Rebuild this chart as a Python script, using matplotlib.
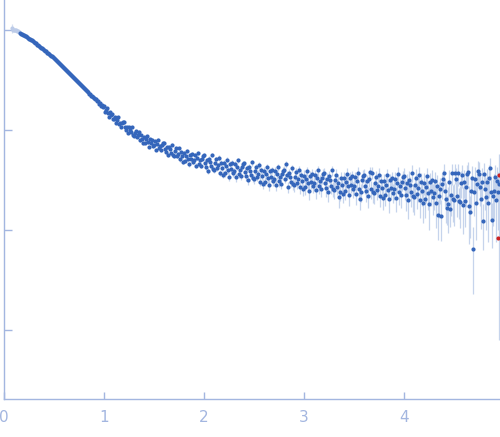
import numpy as np
import matplotlib
matplotlib.use("Agg")
import matplotlib.pyplot as plt

# Scattering vector grid, s [nm^-1] (uniform step of 0.01).
q_first, q_last, q_count = 0.16, 4.95, 480

# Intensity (arbitrary units, I(0) ~ 100).
intensity = [
    93.6, 91.9, 91.5, 89.8,
    89.4, 87.4, 86.6, 84.6, 83.9, 81.9, 81.2, 79.3, 78.6, 76.8,
    76.2, 74.2, 73.5, 71.5, 70.9, 68.9, 68.3, 66.4, 65.8, 64.0,
    63.4, 61.6, 61.1, 59.4, 58.9, 57.2, 56.8, 55.2, 54.7, 53.2,
    52.8, 51.0, 50.4, 48.7, 48.2, 46.5, 46.0, 44.4, 44.0, 42.4,
    41.9, 40.4, 40.1, 38.6, 38.3, 36.9, 36.6, 35.2, 35.0, 33.6,
    33.4, 32.1, 31.9, 30.6, 30.5, 29.2, 29.1, 27.9, 27.8, 26.6,
    26.5, 25.4, 25.3, 24.3, 24.2, 23.1, 23.1, 22.1, 22.1, 21.2,
    21.1, 20.2, 20.3, 19.3, 19.4, 18.3, 18.5, 17.5, 17.7, 16.8,
    17.2, 15.3, 15.9, 16.7, 14.8, 13.6, 15.1, 14.0, 14.6, 12.9,
    12.9, 13.6, 11.7, 12.7, 13.4, 11.4, 11.8, 10.8, 11.7, 12.0,
    11.9, 10.7, 10.0, 10.8, 9.37, 10.7, 10.1, 9.46, 10.7, 8.92,
    8.69, 9.41, 9.82, 8.58, 8.83, 9.64, 7.85, 8.90, 8.21, 7.39,
    8.55, 7.40, 8.05, 8.71, 7.51, 6.79, 8.04, 7.40, 8.01, 6.92,
    7.04, 7.75, 6.36, 7.30, 7.96, 6.55, 6.90, 6.25, 7.07, 7.35,
    7.38, 6.50, 6.03, 6.72, 5.62, 6.79, 6.39, 5.93, 7.12, 5.61,
    5.49, 6.17, 6.55, 5.54, 5.81, 6.57, 5.07, 6.01, 5.47, 4.82,
    5.88, 4.90, 5.51, 6.15, 5.13, 4.54, 5.67, 5.15, 5.74, 4.79,
    4.96, 5.61, 4.40, 5.25, 5.89, 4.62, 4.96, 4.40, 5.16, 5.45,
    5.60, 4.71, 4.27, 5.01, 3.92, 5.16, 4.78, 4.32, 5.62, 4.05,
    3.99, 4.69, 5.12, 4.13, 4.42, 5.25, 3.74, 4.72, 4.18, 3.57,
    4.66, 3.68, 4.33, 5.03, 3.96, 3.38, 4.58, 4.04, 4.70, 3.71,
    3.89, 4.60, 3.36, 4.26, 4.98, 3.63, 4.01, 3.44, 4.26, 4.59,
    4.63, 3.83, 3.44, 4.12, 3.14, 4.27, 3.92, 3.52, 4.73, 3.30,
    3.24, 3.87, 4.28, 3.39, 3.65, 4.43, 3.04, 3.95, 3.47, 2.90,
    3.89, 3.05, 3.61, 4.22, 3.30, 2.81, 3.86, 3.39, 3.96, 3.10,
    3.27, 3.90, 2.81, 3.60, 4.25, 3.06, 3.40, 2.90, 3.62, 3.93,
    3.96, 3.26, 4.55, 3.53, 2.68, 3.70, 3.39, 3.04, 4.14, 2.85,
    2.79, 3.40, 3.78, 2.95, 3.21, 3.96, 2.66, 3.52, 3.07, 2.54,
    3.50, 2.66, 3.23, 3.86, 2.94, 2.44, 3.50, 3.03, 3.62, 2.75,
    2.93, 3.57, 2.49, 3.28, 3.94, 2.75, 3.09, 2.59, 3.34, 3.65,
    3.71, 2.98, 2.62, 3.27, 2.38, 3.44, 3.13, 2.76, 3.94, 2.57,
    2.52, 3.15, 3.56, 2.70, 2.97, 2.15, 2.41, 3.31, 2.83, 2.30,
    3.30, 2.46, 3.02, 3.65, 2.73, 2.25, 3.31, 2.83, 3.43, 2.56,
    2.73, 3.37, 2.29, 3.08, 3.75, 2.55, 2.05, 2.39, 3.14, 3.46,
    3.52, 2.78, 2.43, 3.07, 2.18, 3.25, 3.80, 2.56, 3.73, 2.37,
    2.32, 2.94, 3.38, 2.49, 2.76, 3.57, 2.20, 3.11, 2.63, 2.09,
    3.11, 2.24, 2.83, 3.52, 2.53, 2.03, 3.14, 2.63, 3.29, 2.36,
    2.54, 3.24, 2.09, 2.93, 3.67, 2.37, 2.74, 2.22, 3.01, 3.37,
    3.49, 2.63, 2.25, 2.96, 1.98, 3.16, 2.79, 2.38, 3.73, 2.17,
    2.12, 2.81, 3.31, 2.30, 2.61, 3.53, 1.99, 2.99, 2.46, 1.87,
    2.98, 2.02, 2.66, 3.44, 2.33, 1.80, 3.01, 2.46, 3.17, 2.15,
    2.36, 3.10, 1.88, 2.77, 1.40, 2.17, 2.57, 1.38, 2.86, 3.25,
    3.75, 2.46, 2.06, 1.66, 1.80, 3.05, 1.62, 2.23, 3.71, 2.02,
    1.99, 3.72, 3.25, 2.20, 3.70, 1.95, 1.89, 2.97, 3.55, 1.79,
    3.03, 1.96, 2.69, 3.59, 3.80, 1.75, 1.51, 2.48, 3.33, 0.65,
    2.39, 3.27, 1.87, 2.89, 3.87, 3.62, 2.68, 2.04, 3.04, 1.23,
    3.59, 2.58, 2.15, 3.01, 1.88, 3.30, 4.17, 2.38, 1.26, 2.17,
    2.45, 3.40, 2.00, 3.10, 2.40, 2.90,
]

# Error bars (one sigma, same units).
sigma = [
    0.45, 0.44, 0.43, 0.42,
    0.41, 0.40, 0.41, 0.39, 0.40, 0.38, 0.39, 0.38, 0.37, 0.38,
    0.37, 0.36, 0.37, 0.35, 0.36, 0.35, 0.34, 0.35, 0.34, 0.33,
    0.34, 0.33, 0.32, 0.33, 0.32, 0.31, 0.32, 0.31, 0.30, 0.31,
    0.30, 0.30, 0.29, 0.30, 0.29, 0.28, 0.29, 0.28, 0.28, 0.27,
    0.28, 0.27, 0.27, 0.26, 0.27, 0.26, 0.26, 0.25, 0.26, 0.25,
    0.25, 0.25, 0.24, 0.25, 0.24, 0.24, 0.25, 0.24, 0.23, 0.24,
    0.24, 0.23, 0.24, 0.23, 0.23, 0.24, 0.23, 0.22, 0.23, 0.23,
    0.23, 0.22, 0.23, 0.22, 0.23, 0.22, 0.22, 0.23, 0.22, 0.22,
    0.23, 0.22, 0.24, 0.22, 0.23, 0.22, 0.24, 0.23, 0.22, 0.23,
    0.24, 0.22, 0.23, 0.24, 0.23, 0.22, 0.24, 0.23, 0.24, 0.22,
    0.23, 0.24, 0.22, 0.24, 0.23, 0.25, 0.23, 0.24, 0.23, 0.24,
    0.24, 0.23, 0.25, 0.24, 0.23, 0.25, 0.24, 0.23, 0.25, 0.24,
    0.25, 0.24, 0.23, 0.25, 0.24, 0.26, 0.24, 0.25, 0.24, 0.25,
    0.25, 0.26, 0.24, 0.25, 0.26, 0.24, 0.25, 0.26, 0.25, 0.24,
    0.26, 0.25, 0.26, 0.24, 0.26, 0.25, 0.27, 0.25, 0.26, 0.25,
    0.26, 0.27, 0.25, 0.26, 0.27, 0.25, 0.26, 0.27, 0.26, 0.25,
    0.27, 0.26, 0.27, 0.25, 0.27, 0.26, 0.28, 0.26, 0.27, 0.26,
    0.27, 0.28, 0.26, 0.27, 0.28, 0.26, 0.27, 0.28, 0.27, 0.26,
    0.28, 0.27, 0.29, 0.27, 0.28, 0.30, 0.27, 0.28, 0.29, 0.27,
    0.29, 0.28, 0.30, 0.28, 0.29, 0.31, 0.28, 0.29, 0.30, 0.28,
    0.30, 0.29, 0.31, 0.28, 0.30, 0.32, 0.29, 0.30, 0.31, 0.29,
    0.31, 0.30, 0.32, 0.29, 0.31, 0.33, 0.30, 0.31, 0.32, 0.30,
    0.32, 0.30, 0.33, 0.31, 0.32, 0.34, 0.30, 0.32, 0.33, 0.31,
    0.33, 0.31, 0.34, 0.32, 0.33, 0.35, 0.31, 0.33, 0.34, 0.32,
    0.34, 0.32, 0.35, 0.33, 0.34, 0.36, 0.32, 0.34, 0.35, 0.33,
    0.35, 0.33, 0.36, 0.34, 0.35, 0.37, 0.33, 0.35, 0.36, 0.34,
    0.36, 0.34, 0.40, 0.35, 0.36, 0.38, 0.34, 0.36, 0.37, 0.35,
    0.37, 0.35, 0.38, 0.36, 0.37, 0.39, 0.35, 0.37, 0.38, 0.36,
    0.44, 0.41, 0.45, 0.43, 0.44, 0.46, 0.41, 0.44, 0.45, 0.43,
    0.45, 0.43, 0.46, 0.44, 0.45, 0.47, 0.43, 0.45, 0.46, 0.44,
    0.46, 0.44, 0.47, 0.45, 0.46, 0.48, 0.44, 0.46, 0.47, 0.45,
    0.47, 0.45, 0.48, 0.46, 0.47, 0.49, 0.45, 0.47, 0.48, 0.46,
    0.48, 0.46, 0.49, 0.47, 0.48, 0.51, 0.46, 0.48, 0.49, 0.47,
    0.49, 0.47, 0.51, 0.48, 0.49, 0.52, 0.47, 0.49, 0.51, 0.48,
    0.51, 0.48, 0.52, 0.49, 0.51, 0.53, 0.48, 0.51, 0.52, 0.49,
    0.52, 0.49, 0.54, 0.51, 0.52, 0.55, 0.49, 0.52, 0.54, 0.51,
    0.53, 0.51, 0.55, 0.52, 0.54, 0.56, 0.51, 0.53, 0.55, 0.52,
    0.55, 0.52, 0.58, 0.54, 0.55, 0.59, 0.53, 0.55, 0.58, 0.54,
    0.68, 0.63, 0.70, 0.65, 0.68, 0.72, 0.63, 0.68, 0.70, 0.66,
    0.70, 0.66, 0.74, 0.68, 0.72, 0.76, 0.66, 0.70, 0.74, 0.69,
    0.74, 0.69, 0.78, 0.72, 0.76, 0.81, 0.70, 0.74, 0.78, 0.73,
    0.78, 0.73, 0.84, 0.76, 0.60, 0.86, 0.74, 0.60, 0.84, 0.77,
    0.84, 0.78, 0.89, 0.55, 0.86, 0.92, 0.55, 0.84, 0.89, 0.82,
    0.89, 0.84, 0.95, 0.86, 0.92, 0.65, 0.85, 0.89, 0.95, 0.88,
    0.95, 0.89, 1.01, 0.92, 0.97, 1.03, 0.67, 0.95, 1.00, 0.42,
    1.00, 0.95, 1.08, 0.97, 1.04, 1.11, 0.96, 1.01, 1.08, 0.60,
    1.08, 1.01, 1.16, 1.05, 1.12, 1.19, 1.04, 1.09, 0.60, 1.08,
    1.16, 1.11, 1.24, 1.15, 1.40, 2.82,
]

# Points excluded at low angle (drawn pale).
q_excluded = [0.08, 0.09, 0.10, 0.11, 0.12, 0.13, 0.14, 0.15]
intensity_excluded = [104.0, 99.5, 101.0, 99.0, 100.0, 97.5, 98.0, 96.0]
sigma_excluded = [10.0, 2.5, 2.0, 1.8, 1.6, 1.5, 1.4, 1.3]

# Flagged points at the high-angle edge (drawn red).
q_flagged = [4.95, 4.94]
intensity_flagged = [3.55, 0.83]

q = np.round(np.linspace(q_first, q_last, q_count), 2)
assert len(intensity) == len(q) == len(sigma)

axis_color = "#a3b6e0"
point_color = "#3566bb"
bar_color = "#c6d4ec"

fig = plt.figure(figsize=(5.0, 4.37), dpi=100)
ax = fig.add_axes([0.008, 0.087, 0.992, 0.913])

ax.errorbar(q_excluded, intensity_excluded, yerr=sigma_excluded, fmt="none",
    ecolor="#d5dff0", elinewidth=0.9, zorder=1)
ax.plot(q_excluded, intensity_excluded, "o", color="#bccbe8",
    markersize=3.0, markeredgewidth=0, zorder=2)

ax.errorbar(q, intensity, yerr=sigma, fmt="none", ecolor=bar_color,
    elinewidth=0.9, zorder=1)
ax.plot(q, intensity, "o", color=point_color, markersize=3.0,
    markeredgewidth=0, zorder=3)

ax.plot(q_flagged, intensity_flagged, "o", color="#cc2222", markersize=3.0,
    markeredgewidth=0, zorder=4)

ax.set_yscale("log")
ax.set_xlim(0, 4.96)
ax.set_ylim(0.0204, 199.5)
ax.set_xticks([0, 1, 2, 3, 4])
ax.set_yticks([0.1, 1, 10, 100])
ax.yaxis.set_minor_locator(matplotlib.ticker.NullLocator())
ax.set_yticklabels([])

for side in ["top", "right"]:
    ax.spines[side].set_visible(False)
for side in ["left", "bottom"]:
    ax.spines[side].set_color(axis_color)
    ax.spines[side].set_linewidth(1.0)

ax.tick_params(axis="x", direction="in", length=5, width=1.0,
    color=axis_color, labelcolor=axis_color, labelsize=11, pad=8)
ax.tick_params(axis="y", direction="in", length=6, width=1.0,
    color=axis_color, left=True)
ax.set_facecolor("none")

fig.savefig("out.png", dpi=100)
